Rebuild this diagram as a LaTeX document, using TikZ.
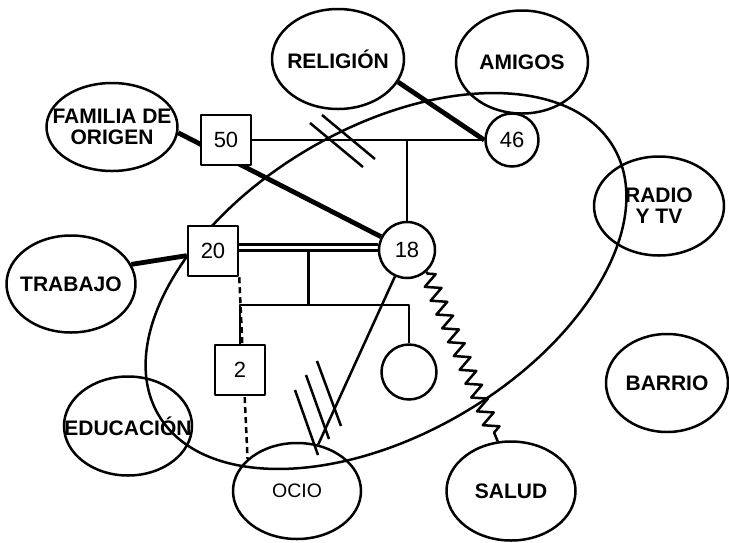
\documentclass[tikz,border=0pt]{standalone}
\usepackage{fontspec}
\setmainfont{Liberation Sans}
\usetikzlibrary{shapes.geometric,backgrounds,decorations.pathmorphing,calc}
\begin{document}
\begin{tikzpicture}[x=1pt,y=-1pt,
  line width=2.5pt, line join=round,
  sub/.style={draw, ellipse, inner sep=0pt, line width=2.5pt},
  lab/.style={font=\bfseries\fontsize{21}{21}\selectfont, align=center, inner sep=0pt},
  smlab/.style={font=\fontsize{19.5}{19}\selectfont, align=center, inner sep=0pt},
  male/.style={draw, fill=white, rectangle, minimum size=50pt, inner sep=0pt, line width=2.5pt, font=\fontsize{22}{22}\selectfont},
  female/.style={draw, fill=white, circle, inner sep=0pt, line width=2.5pt, font=\fontsize{22}{22}\selectfont},
  thin/.style={line width=2.5pt},
  strong/.style={line width=4.8pt},
  conflict/.style={line width=2.5pt, decorate, decoration={zigzag, segment length=15pt, amplitude=7.5pt, pre length=2pt, post length=3pt}},
  hatch/.style={line width=2.5pt},
  dbl/.style={double distance=3.5pt, line width=2.3pt},
  weak/.style={dash pattern=on 6pt off 4pt, line width=2.5pt}
]
\useasboundingbox (0,0) rectangle (729,542);

% subsystems
\node[sub, minimum width=132pt, minimum height=100pt, label={[lab]center:RELIGIÓN}] (rel) at (338,59) {};
\node[sub, minimum width=132pt, minimum height=103pt, label={[lab]center:AMIGOS}] (ami) at (522,62) {};
\node[sub, minimum width=131pt, minimum height=88pt, label={[lab]center:{FAMILIA DE\\ORIGEN}}] (fam) at (112,127) {};
\node[sub, minimum width=129pt, minimum height=97pt, label={[lab]center:TRABAJO}] (trab) at (71,284) {};
\node[sub, minimum width=128pt, minimum height=99pt, label={[lab]center:EDUCACIÓN}] (edu) at (128,426) {};
\node[sub, minimum width=128pt, minimum height=96pt, label={[smlab]center:OCIO}] (ocio) at (297,491) {};
\node[sub, minimum width=129pt, minimum height=99pt, label={[lab]center:SALUD}] (salud) at (511,491) {};
\node[sub, minimum width=122pt, minimum height=98pt, label={[lab]center:BARRIO}] (barrio) at (667,383) {};
\node[sub, minimum width=130pt, minimum height=99pt, label={[lab]center:{RADIO\\Y TV}}] (radio) at (659,206) {};

% family
\node[male] (b50) at (226,140) {50};
\node[female, minimum size=53pt] (c46) at (512,140) {46};
\node[male] (b20) at (213,251) {20};
\node[female, minimum size=56pt] (c18) at (407,250) {18};
\node[male] (b2) at (240,370) {2};
\node[female, minimum size=55pt] (kid) at (409,372) {};

\coordinate (sib) at (0,305);
\coordinate (mm) at ($(b20.east)!0.5!(c18.west)$);

\begin{pgfonlayer}{background}
\begin{scope}[line width=2.5pt, line join=round]
  \node[draw, ellipse, minimum width=528pt, minimum height=306pt, rotate=30.5, inner sep=0pt, line width=2.5pt] (sys) at (386,281) {};
  % strong ties
  \draw[strong] (fam.-5) -- (c18);
  \draw[strong] (rel.-21) -- (c46.west);
  \draw[strong] (trab.18) -- (b20.190);
  % couples
  \draw[thin] (b50) -- (c46);
  \draw[thin] (c18.north) -- (c18.north |- b50.east);
  \draw[thin] (mm) -- (mm |- sib);
  \draw[dbl] ([yshift=3.5pt]b20.east) -- ([yshift=3.5pt]b20.east -| c18.west);
  \draw[thin] (b2.north) -- (b2.north |- sib) -- (kid.north |- sib) -- (kid.north);
  % other ties
  \draw[weak] (b20.south east) -- (ocio.147);
  \draw[thin] (c18) -- (ocio);
  \draw[conflict] (c18.-48) -- (salud.105);
  % hatch marks
  \draw[hatch] (310,123) -- (363,167);
  \draw[hatch] (322,115) -- (375,159);
  \draw[hatch] (295,390) -- (318,455);
  \draw[hatch] (306,375) -- (329,439);
  \draw[hatch] (317,361) -- (341,426);
\end{scope}
\end{pgfonlayer}
\end{tikzpicture}
\end{document}
